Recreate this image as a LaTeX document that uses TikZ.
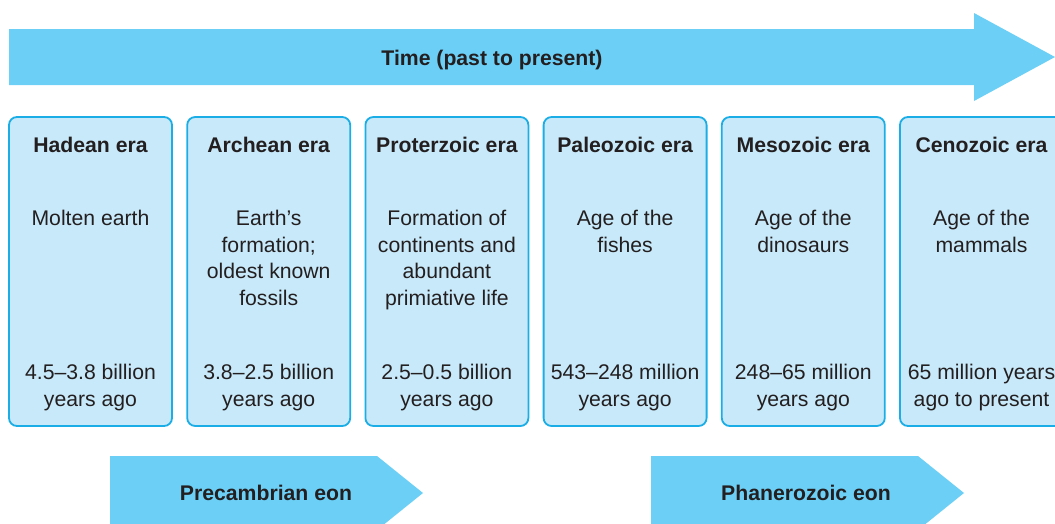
\documentclass[tikz,border=0pt]{standalone}
\usepackage{fontspec}
\setmainfont{Liberation Sans}
\definecolor{arrowblue}{HTML}{6CCFF6}
\definecolor{boxfill}{HTML}{C8E9F9}
\definecolor{boxline}{HTML}{1BAEE6}
\definecolor{ink}{HTML}{231F20}
\tikzset{
  erabox/.style={draw=boxline, fill=boxfill, line width=1.8pt, rounded corners=8pt,
    minimum width=163pt, minimum height=309pt, inner sep=0pt},
  eratitle/.style={anchor=base, inner sep=0pt, text=ink, font=\fontsize{21.2}{26.8}\selectfont\bfseries},
  erabody/.style={anchor=base, inner sep=0pt, text=ink, align=center, font=\fontsize{21.2}{26.8}\selectfont},
  arrowtext/.style={anchor=base, inner sep=0pt, text=ink, font=\fontsize{21.2}{26.8}\selectfont\bfseries},
  bigarrow/.style={fill=arrowblue}
}
\begin{document}
\begin{tikzpicture}[x=1pt,y=-1pt]
\clip (0,0) rectangle (1055,523);
% top time arrow
\fill[bigarrow] (9,29) -- (974,29) -- (974,13) -- (1055,57) -- (974,101) -- (974,85) -- (9,85) -- cycle;
\node[arrowtext] (time) at (492,65) {Time (past to present)};
% era boxes
\node[erabox] (b1) at (90.5,271.5) {};
\node[erabox] (b2) at (268.7,271.5) {};
\node[erabox] (b3) at (446.9,271.5) {};
\node[erabox] (b4) at (625.1,271.5) {};
\node[erabox] (b5) at (803.3,271.5) {};
\node[erabox] (b6) at (981.5,271.5) {};
% titles
\node[eratitle] (t1) at (90.5,152.3) {Hadean era};
\node[eratitle] (t2) at (268.7,152.3) {Archean era};
\node[eratitle] (t3) at (446.9,152.3) {Proterzoic era};
\node[eratitle] (t4) at (625.1,152.3) {Paleozoic era};
\node[eratitle] (t5) at (803.3,152.3) {Mesozoic era};
\node[eratitle] (t6) at (981.5,152.3) {Cenozoic era};
% descriptions (anchor = baseline of last line)
\node[erabody] (d1) at (90.5,225.3) {Molten earth};
\node[erabody] (d2) at (268.7,305.7) {Earth’s\\formation;\\oldest known\\fossils};
\node[erabody] (d3) at (446.9,305.7) {Formation of\\continents and\\abundant\\primiative life};
\node[erabody] (d4) at (625.1,252.1) {Age of the\\fishes};
\node[erabody] (d5) at (803.3,252.1) {Age of the\\dinosaurs};
\node[erabody] (d6) at (981.5,252.1) {Age of the\\mammals};
% dates
\node[erabody] (y1) at (90.5,406.1) {4.5–3.8 billion\\years ago};
\node[erabody] (y2) at (268.7,406.1) {3.8–2.5 billion\\years ago};
\node[erabody] (y3) at (446.9,406.1) {2.5–0.5 billion\\years ago};
\node[erabody] (y4) at (625.1,406.1) {543–248 million\\years ago};
\node[erabody] (y5) at (803.3,406.1) {248–65 million\\years ago};
\node[erabody] (y6) at (981.5,406.1) {65 million years\\ago to present};
% eon arrows
\fill[bigarrow] (110,456) -- (377,456) -- (423,493) -- (377,530) -- (110,530) -- cycle;
\node[arrowtext] (pre) at (266,500) {Precambrian eon};
\fill[bigarrow] (651,456) -- (918,456) -- (964,493) -- (918,530) -- (651,530) -- cycle;
\node[arrowtext] (pha) at (806,500) {Phanerozoic eon};
\end{tikzpicture}
\end{document}
